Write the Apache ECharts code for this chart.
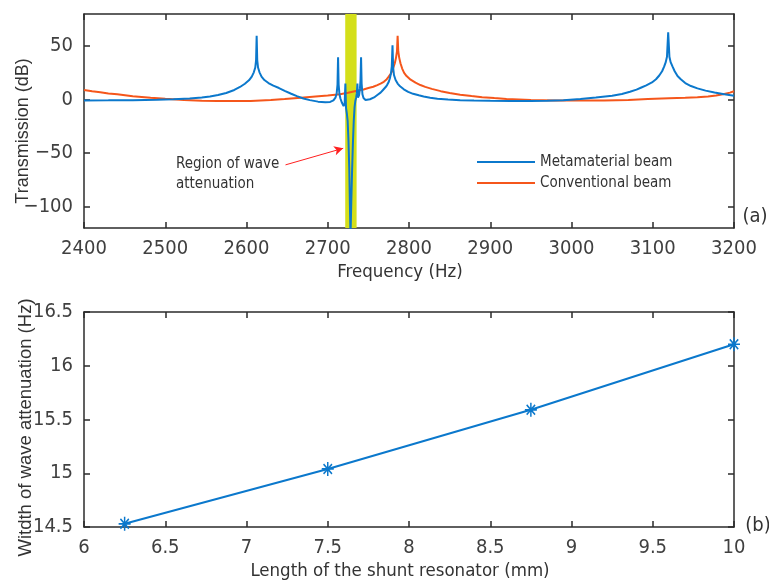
<!DOCTYPE html>
<html>
<head>
<meta charset="utf-8">
<script src="https://cdn.jsdelivr.net/npm/echarts@6/dist/echarts.min.js"></script>
<style>
  html, body { margin: 0; padding: 0; background: #fff; }
  #chart { width: 769px; height: 580px; }
</style>
</head>
<body>
<div id="chart"></div>
<script>
// (a) Transmission spectra of the two beams
const freqMeta = [2400, 2430, 2460, 2490, 2510, 2530, 2545, 2555, 2565, 2575, 2585, 2592, 2598, 2603, 2606.5, 2609, 2610.8, 2611.8, 2612.5, 2613.2, 2614.2, 2616, 2618.5, 2622, 2627, 2633, 2640, 2647, 2655, 2662, 2670, 2678, 2688, 2697, 2703, 2707, 2709.5, 2711, 2712, 2712.7, 2713.4, 2714.4, 2715.6, 2717.5, 2719.5, 2720.8, 2721.7, 2722.5, 2723.5, 2724.5, 2725.5, 2726.5, 2727.3, 2728, 2729, 2730, 2731, 2732, 2733, 2734, 2735, 2735.8, 2736.5, 2737.2, 2738.5, 2739.6, 2740.3, 2741, 2741.7, 2742.7, 2744, 2746.5, 2752, 2757, 2761, 2765, 2768, 2771, 2773, 2775, 2776.5, 2777.8, 2778.8, 2779.7, 2780.5, 2781.5, 2783.5, 2786, 2789, 2793.6, 2799, 2805, 2812, 2818, 2826, 2835, 2848, 2863, 2880, 2900, 2925, 2950, 2970, 2990, 3011, 3030, 3050, 3062, 3072, 3080, 3086, 3092, 3099, 3104, 3108, 3111.5, 3114, 3116, 3117.5, 3119, 3120.5, 3122, 3124.4, 3127, 3130.5, 3134.5, 3140, 3147, 3155, 3165, 3176, 3188, 3200];
const transMeta = [-0.8, -0.7, -0.5, -0.1, 0.3, 1.1, 2, 3, 4.3, 6.2, 9, 11.8, 14.8, 18, 21.5, 25.5, 30, 37, 59.6, 37, 30, 25.5, 21.5, 18.3, 15.5, 13, 10.8, 8.2, 5.5, 3.2, 1, -0.5, -1.9, -2.5, -2.2, -0.8, 1.8, 6, 14, 39.5, 14, 5, 1, -3, -6, -4, 15, -8, -13, -20, -38, -65, -100, -128, -95, -65, -40, -20, -7, -1, 2, 6, 15, 2, 4, 10, 18, 39.5, 15, 5, 1.5, -0.4, 0.3, 2, 4.3, 6.5, 9, 11.5, 13.6, 16.5, 20, 24.5, 31, 50.7, 30, 23, 18.3, 15, 12.4, 9.6, 7.2, 5.4, 4, 2.9, 1.8, 0.8, 0, -0.5, -0.9, -1.1, -1.2, -1.2, -1, -0.5, 0.6, 2, 3.7, 5.3, 7.3, 9.3, 11.3, 13.3, 16, 19, 22.5, 26.5, 30.8, 35, 40, 62.9, 40, 35, 30.8, 26.5, 22, 19, 15.5, 12.7, 10.5, 8.4, 6.7, 5, 3.7];

const freqConv = [2400, 2410, 2420, 2430, 2441, 2460, 2482, 2500, 2523, 2545, 2564, 2585, 2605, 2630, 2647, 2667, 2685, 2700, 2715, 2725, 2736, 2744, 2750, 2756, 2761, 2765, 2769, 2772, 2775, 2777.5, 2779.5, 2781, 2782.5, 2784, 2785.2, 2786, 2786.8, 2788, 2789.5, 2791.6, 2794, 2797, 2802, 2808, 2814, 2820, 2828, 2839, 2850, 2863, 2877, 2890, 2905, 2920, 2950, 2980, 3000, 3040, 3070, 3094, 3120, 3140, 3155, 3168, 3178, 3188, 3195, 3200];
const transConv = [9, 7.8, 6.8, 5.8, 4.9, 3.2, 1.8, 0.8, -0.4, -1, -1.3, -1.4, -1.3, -0.4, 0.6, 1.8, 2.9, 3.8, 5, 6.4, 8.3, 9.5, 10.8, 12, 13.6, 15, 16.6, 18.5, 21.4, 24, 27, 30.5, 34, 39, 45, 59.7, 45, 39, 34, 29, 25, 22, 18.6, 15.8, 13.6, 11.9, 10, 7.9, 6.2, 4.6, 3.3, 2.3, 1.4, 0.6, -0.4, -0.8, -0.9, -0.8, -0.3, 0.5, 1.2, 1.7, 2.2, 3, 3.9, 5.2, 6.5, 7.8];

// attenuation band (Hz)
const bandStart = 2721.5;
const bandEnd = 2735.5;

// axis ticks
const freqTicks = [2400, 2500, 2600, 2700, 2800, 2900, 3000, 3100, 3200];
const transTicks = [-100, -50, 0, 50];

// (b) Attenuation width vs resonator length
const resonatorLength = [6.25, 7.5, 8.75, 10];
const attenuationWidth = [14.53, 15.04, 15.59, 16.2];
const lengthTicks = [6, 6.5, 7, 7.5, 8, 8.5, 9, 9.5, 10];
const widthTicks = [14.5, 15, 15.5, 16, 16.5];

const seriesNames = ['Metamaterial beam', 'Conventional beam'];

const BLUE = '#0b78cc';
const ORANGE = '#f5561b';
const BAND = '#d4df1a';
const AXIS = '#2b2b2b';
const LABEL = '#404040';
const NARROW = "'Liberation Sans Narrow', 'DejaVu Sans Condensed', 'Arial Narrow', sans-serif";
const PLAIN = "'Liberation Sans', Arial, sans-serif";

const plainFmt = v => String(v).replace('-', '\u2212');

function frameAxis(extra) {
  return Object.assign({
    type: 'value',
    nameMoveOverlap: false,
    axisLine: { show: true, onZero: false, lineStyle: { color: AXIS, width: 1.5 } },
    axisTick: { show: true, inside: true, length: 6, lineStyle: { color: AXIS, width: 1.5 } },
    splitLine: { show: false },
    axisLabel: { show: false }
  }, extra);
}

const tickLabel = { show: true, color: LABEL, fontFamily: NARROW, fontSize: 20, formatter: plainFmt };

const chart = echarts.init(document.getElementById('chart'));

chart.setOption({
  animation: false,
  backgroundColor: '#fff',
  grid: [
    { left: 84, right: 35, top: 14, height: 214, containLabel: false, outerBoundsMode: 'none' },
    { left: 84, right: 35, top: 312, height: 215, containLabel: false, outerBoundsMode: 'none' }
  ],
  xAxis: [
    frameAxis({
      gridIndex: 0, position: 'bottom',
      min: freqTicks[0], max: freqTicks[freqTicks.length - 1], interval: 100,
      axisLabel: Object.assign({}, tickLabel, { margin: 11 }),
      name: 'Frequency (Hz)', nameLocation: 'middle', nameGap: 35,
      nameTextStyle: { fontFamily: NARROW, fontSize: 18.5, color: '#333', padding: [0, 18, 0, 0] }
    }),
    frameAxis({
      gridIndex: 0, position: 'top',
      min: freqTicks[0], max: freqTicks[freqTicks.length - 1], interval: 100
    }),
    frameAxis({
      gridIndex: 1, position: 'bottom',
      min: lengthTicks[0], max: lengthTicks[lengthTicks.length - 1], interval: 0.5,
      axisLabel: Object.assign({}, tickLabel, { margin: 11 }),
      name: 'Length of the shunt resonator (mm)', nameLocation: 'middle', nameGap: 35,
      nameTextStyle: { fontFamily: NARROW, fontSize: 18.5, color: '#333', padding: [0, 18, 0, 0] }
    }),
    frameAxis({
      gridIndex: 1, position: 'top',
      min: lengthTicks[0], max: lengthTicks[lengthTicks.length - 1], interval: 0.5
    })
  ],
  yAxis: [
    frameAxis({
      gridIndex: 0, position: 'left', min: -120, max: 80,
      axisTick: { show: true, inside: true, length: 6, customValues: transTicks, lineStyle: { color: AXIS, width: 1.5 } },
      axisLabel: Object.assign({}, tickLabel, { margin: 11, customValues: transTicks }),
      name: 'Transmission (dB)', nameLocation: 'middle', nameGap: 52,
      nameTextStyle: { fontFamily: PLAIN, fontSize: 18, color: '#333', padding: [0, 20, 0, 0] }
    }),
    frameAxis({
      gridIndex: 0, position: 'right', min: -120, max: 80,
      axisTick: { show: true, inside: true, length: 6, customValues: transTicks, lineStyle: { color: AXIS, width: 1.5 } }
    }),
    frameAxis({
      gridIndex: 1, position: 'left',
      min: widthTicks[0], max: widthTicks[widthTicks.length - 1], interval: 0.5,
      axisLabel: Object.assign({}, tickLabel, { margin: 11 }),
      name: 'Witdth of wave attenuation (Hz)', nameLocation: 'middle', nameGap: 49,
      nameTextStyle: { fontFamily: PLAIN, fontSize: 18.5, color: '#333', padding: [0, 16, 0, 0] }
    }),
    frameAxis({
      gridIndex: 1, position: 'right',
      min: widthTicks[0], max: widthTicks[widthTicks.length - 1], interval: 0.5
    })
  ],
  legend: {
    data: seriesNames,
    orient: 'vertical',
    left: 477, top: 152, padding: 0,
    itemWidth: 58, itemHeight: 2, itemGap: 1,
    icon: 'rect',
    textStyle: { fontFamily: NARROW, fontSize: 15, color: '#333', lineHeight: 20 }
  },
  series: [
    {
      name: seriesNames[0], type: 'line',
      xAxisIndex: 0, yAxisIndex: 0,
      data: freqMeta.map((f, i) => [f, transMeta[i]]),
      showSymbol: false, symbol: 'none',
      lineStyle: { color: BLUE, width: 2 },
      itemStyle: { color: BLUE },
      z: 3,
      markArea: {
        silent: true,
        itemStyle: { color: BAND, opacity: 1 },
        data: [[{ xAxis: bandStart }, { xAxis: bandEnd }]]
      },
      markLine: {
        silent: true,
        symbol: ['none', 'arrow'],
        symbolSize: [7, 9],
        label: { show: false },
        lineStyle: { color: '#ff2020', width: 1, type: 'solid' },
        data: [[{ coord: [2648, -61] }, { coord: [2719, -45.5] }]]
      }
    },
    {
      name: seriesNames[1], type: 'line',
      xAxisIndex: 0, yAxisIndex: 0,
      data: freqConv.map((f, i) => [f, transConv[i]]),
      showSymbol: false, symbol: 'none',
      lineStyle: { color: ORANGE, width: 2 },
      itemStyle: { color: ORANGE },
      z: 2
    },
    {
      name: 'width', type: 'line',
      xAxisIndex: 2, yAxisIndex: 2,
      data: resonatorLength.map((l, i) => [l, attenuationWidth[i]]),
      symbol: 'path://M0,-6L0,6M-6,0L6,0M-4.2,-4.2L4.2,4.2M-4.2,4.2L4.2,-4.2',
      symbolSize: [12, 14],
      clip: false,
      lineStyle: { color: BLUE, width: 2 },
      itemStyle: { color: BLUE, borderColor: BLUE, borderWidth: 1.6 }
    }
  ],
  graphic: [
    {
      type: 'text', left: 176, top: 154,
      style: { text: 'Region of wave\nattenuation', font: '15px ' + NARROW, fill: '#333', lineHeight: 20 }
    },
    {
      type: 'text', x: 755, y: 217,
      style: { text: '(a)', font: '20px ' + NARROW, fill: '#333', align: 'center', verticalAlign: 'middle' }
    },
    {
      type: 'text', x: 758, y: 526,
      style: { text: '(b)', font: '20px ' + NARROW, fill: '#333', align: 'center', verticalAlign: 'middle' }
    }
  ]
});
</script>
</body>
</html>
